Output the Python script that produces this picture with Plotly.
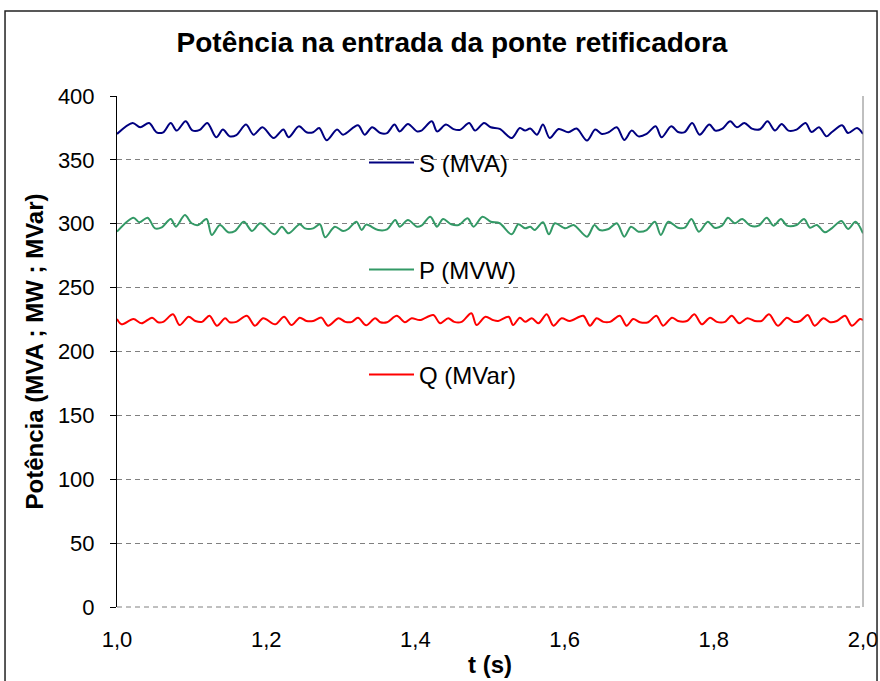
import plotly.graph_objects as go

# ---------------- data ----------------
t_S = [1.000, 1.021, 1.031, 1.043, 1.053, 1.062, 1.072, 1.080, 1.092, 1.101, 1.111, 1.121, 1.133, 1.142,
       1.151, 1.160, 1.173, 1.183, 1.195, 1.210, 1.223, 1.230, 1.244, 1.254, 1.263, 1.271, 1.281, 1.295,
       1.303, 1.323, 1.332, 1.342, 1.353, 1.362, 1.372, 1.379, 1.390, 1.402, 1.408, 1.422, 1.429, 1.441,
       1.451, 1.460, 1.472, 1.480, 1.492, 1.501, 1.513, 1.529, 1.540, 1.547, 1.554, 1.563, 1.571, 1.580,
       1.592, 1.605, 1.616, 1.630, 1.641, 1.650, 1.659, 1.670, 1.680, 1.690, 1.699, 1.710, 1.722, 1.730,
       1.743, 1.752, 1.761, 1.771, 1.781, 1.794, 1.802, 1.811, 1.822, 1.831, 1.841, 1.851, 1.862, 1.872,
       1.882, 1.891, 1.900, 1.911, 1.923, 1.931, 1.941, 1.951, 1.958, 1.972, 1.980, 1.992, 2.000]
S_MVA = [370.3, 378.9, 375.5, 378.9, 371.6, 371.6, 378.9, 372.9, 380.2, 373.1, 373.5, 378.9, 367.7, 373.7,
         368.4, 369.4, 377.6, 369.7, 375.5, 367.1, 373.7, 367.7, 376.3, 371.6, 371.6, 374.9, 365.3, 373.7,
         369.7, 377.1, 369.7, 375.5, 371.0, 371.0, 377.6, 372.3, 378.1, 372.3, 372.9, 380.2, 372.3, 377.6,
         374.1, 373.5, 378.9, 372.9, 378.9, 375.5, 374.2, 367.1, 374.9, 372.9, 374.5, 369.7, 377.6, 367.1,
         374.2, 371.6, 374.5, 365.1, 373.7, 370.3, 371.6, 375.5, 365.6, 372.9, 368.4, 370.3, 376.3, 367.7,
         376.3, 371.8, 371.8, 378.9, 369.7, 377.6, 372.9, 374.2, 380.2, 375.5, 378.9, 374.5, 374.0, 380.2,
         372.9, 378.1, 372.9, 373.7, 378.9, 371.8, 375.5, 368.4, 371.6, 377.1, 371.0, 374.9, 370.3]

t_P = [1.000, 1.022, 1.030, 1.041, 1.051, 1.060, 1.072, 1.079, 1.091, 1.100, 1.109, 1.120, 1.127, 1.138,
       1.149, 1.158, 1.170, 1.181, 1.192, 1.211, 1.221, 1.230, 1.245, 1.252, 1.263, 1.272, 1.279, 1.292,
       1.303, 1.310, 1.321, 1.328, 1.334, 1.350, 1.362, 1.373, 1.379, 1.390, 1.402, 1.408, 1.420, 1.429,
       1.437, 1.448, 1.458, 1.470, 1.478, 1.490, 1.501, 1.513, 1.529, 1.538, 1.547, 1.554, 1.560, 1.571,
       1.579, 1.587, 1.601, 1.612, 1.630, 1.640, 1.647, 1.659, 1.670, 1.680, 1.689, 1.699, 1.710, 1.721,
       1.729, 1.739, 1.752, 1.761, 1.770, 1.780, 1.792, 1.801, 1.811, 1.819, 1.828, 1.838, 1.849, 1.860,
       1.871, 1.880, 1.890, 1.898, 1.911, 1.921, 1.929, 1.938, 1.949, 1.958, 1.971, 1.980, 1.990, 2.000]
P_MW = [293.8, 304.7, 301.1, 304.7, 296.4, 297.2, 303.7, 297.7, 306.8, 300.4, 299.0, 303.7, 291.2, 299.0,
        293.3, 294.3, 301.6, 294.3, 300.4, 291.7, 297.7, 292.5, 299.6, 296.4, 296.4, 299.6, 289.4, 297.7,
        294.3, 295.9, 301.6, 295.1, 299.3, 295.1, 295.6, 302.9, 297.7, 302.9, 297.7, 298.5, 305.5, 297.7,
        303.7, 299.6, 299.0, 304.3, 297.7, 305.5, 301.6, 300.4, 291.7, 299.6, 296.4, 297.7, 295.1, 301.1,
        291.7, 300.4, 296.4, 299.0, 289.9, 299.0, 295.1, 295.9, 300.4, 289.9, 297.7, 293.8, 295.1, 301.6,
        291.2, 301.6, 296.9, 296.9, 303.7, 293.8, 301.6, 296.9, 298.5, 304.7, 300.4, 303.7, 298.5, 298.5,
        304.7, 298.5, 303.7, 298.5, 299.0, 303.7, 296.9, 299.0, 293.3, 296.4, 302.2, 295.9, 301.6, 292.5]

t_Q = [1.000, 1.006, 1.022, 1.033, 1.047, 1.055, 1.062, 1.075, 1.084, 1.096, 1.105, 1.114, 1.124, 1.134,
       1.145, 1.151, 1.160, 1.174, 1.185, 1.196, 1.212, 1.224, 1.234, 1.245, 1.254, 1.263, 1.274, 1.283,
       1.297, 1.306, 1.315, 1.323, 1.334, 1.346, 1.353, 1.362, 1.375, 1.386, 1.395, 1.406, 1.424, 1.433,
       1.444, 1.452, 1.462, 1.475, 1.482, 1.494, 1.504, 1.511, 1.525, 1.531, 1.540, 1.547, 1.556, 1.565,
       1.576, 1.585, 1.596, 1.607, 1.625, 1.634, 1.643, 1.652, 1.661, 1.674, 1.683, 1.692, 1.701, 1.712,
       1.723, 1.732, 1.744, 1.752, 1.764, 1.774, 1.784, 1.795, 1.804, 1.815, 1.824, 1.834, 1.845, 1.855,
       1.864, 1.874, 1.886, 1.898, 1.907, 1.916, 1.926, 1.935, 1.947, 1.956, 1.965, 1.976, 1.985, 1.996,
       2.000]
Q_MVar = [225.4, 221.3, 225.4, 222.1, 226.5, 222.9, 223.2, 229.1, 220.7, 227.2, 223.9, 223.2, 228.0, 220.2,
          226.0, 222.9, 223.2, 228.0, 220.2, 226.0, 221.3, 227.2, 220.7, 226.5, 223.9, 223.9, 226.5, 220.2,
          226.0, 223.2, 223.2, 226.5, 220.5, 226.0, 222.9, 222.9, 228.0, 222.9, 226.0, 224.6, 228.6, 222.1,
          226.0, 223.2, 223.2, 229.9, 220.7, 227.2, 224.6, 223.9, 227.2, 220.7, 226.5, 223.2, 226.0, 222.1,
          229.1, 220.2, 226.0, 223.9, 228.0, 220.2, 226.0, 223.2, 223.2, 228.0, 220.2, 225.4, 222.9, 222.9,
          228.0, 220.2, 226.5, 223.9, 223.9, 229.1, 221.3, 226.5, 223.2, 223.2, 228.0, 222.1, 226.0, 223.9,
          223.9, 229.1, 220.2, 226.5, 223.2, 223.9, 228.6, 220.2, 226.0, 222.9, 223.9, 228.0, 220.2, 225.4,
          224.6]

x_ticks = [1.0, 1.2, 1.4, 1.6, 1.8, 2.0]
x_tick_labels = ["1,0", "1,2", "1,4", "1,6", "1,8", "2,0"]
y_ticks = [0, 50, 100, 150, 200, 250, 300, 350, 400]

title_text = "Potência na entrada da ponte retificadora"
x_title = "t (s)"
y_title = "Potência (MVA ; MW ; MVar)"
names = ["S (MVA)", "P (MVW)", "Q (MVar)"]
colors = ["#000080", "#339966", "#FF0000"]

# ---------------- figure ----------------
FONT = "Liberation Sans, Arial, sans-serif"
fig = go.Figure()
series = [(t_S, S_MVA), (t_P, P_MW), (t_Q, Q_MVar)]
legend_ids = ["legend", "legend2", "legend3"]
for (tx, vy), nm, col, lg in zip(series, names, colors, legend_ids):
    fig.add_trace(go.Scatter(x=tx, y=vy, mode="lines", name=nm,
                             line=dict(color=col, width=2, shape="spline", smoothing=0.9),
                             legend=lg))

leg_common = dict(x=(364 - 117) / 746, xanchor="left", yanchor="middle", bgcolor="rgba(0,0,0,0)",
                  borderwidth=0, font=dict(family=FONT, size=24, color="black"),
                  itemwidth=45)

fig.update_layout(
    width=880, height=681,
    margin=dict(l=117, r=17, t=96, b=74),
    paper_bgcolor="white", plot_bgcolor="white",
    font=dict(family=FONT, size=22, color="black"),
    title=dict(text="<b>" + title_text + "</b>", x=452 / 880, xanchor="center", xref="container",
               y=1 - 42 / 681, yanchor="middle", yref="container",
               font=dict(family=FONT, size=28, color="black")),
    xaxis=dict(range=[1.0, 2.0], tickmode="array", tickvals=x_ticks, ticktext=x_tick_labels,
               showgrid=False, zeroline=False, showline=False, ticks="outside", ticklen=13,
               tickcolor="rgba(0,0,0,0)", tickfont=dict(size=22), automargin=False,
               title=dict(text="<b>" + x_title + "</b>", font=dict(size=24), standoff=4)),
    yaxis=dict(range=[0, 400], tickmode="array", tickvals=y_ticks,
               showgrid=True, gridcolor="#808080", gridwidth=1, griddash="5px,4px",
               zeroline=False, showline=True, linecolor="black", linewidth=1,
               ticks="outside", ticklen=6, tickcolor="black", tickfont=dict(size=22),
               ticklabelstandoff=11, automargin=False,
               title=dict(text="<b>" + y_title + "</b>", font=dict(size=24), standoff=7)),
    legend=dict(leg_common, y=(607 - 163) / 511),
    legend2=dict(leg_common, y=(607 - 270) / 511),
    legend3=dict(leg_common, y=(607 - 375) / 511),
    shapes=[
        # white legend area hiding gridlines (drawn under the traces)
        dict(type="rect", xref="paper", yref="paper", x0=0.2949, x1=0.563, y0=0.3503, y1=0.9726,
             fillcolor="white", line=dict(width=0), layer="between"),
        # right edge of plot area
        dict(type="line", xref="paper", yref="paper", x0=1, x1=1, y0=0, y1=1,
             line=dict(color="#808080", width=1)),
        # dashed bottom edge of plot area
        dict(type="line", xref="paper", yref="paper", x0=0, x1=1, y0=0, y1=0,
             line=dict(color="#808080", width=1, dash="5px,4px")),
        # chart outer border
        dict(type="rect", xref="paper", yref="paper", x0=-0.1501, x1=1.0188, y0=-0.2, y1=1.1663,
             line=dict(color="#222222", width=1.5), fillcolor="rgba(0,0,0,0)"),
    ],
    showlegend=True,
)

fig.write_html("out.html", config={"displayModeBar": False},
               post_script="document.body.style.margin='0';document.body.style.overflow='hidden';")
